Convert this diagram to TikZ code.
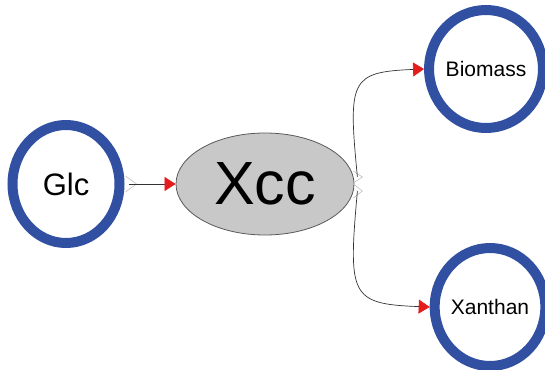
\documentclass[tikz,border=0pt]{standalone}
\usepackage{fontspec}
\setmainfont{Liberation Sans}
\usepackage{tikz}
\usetikzlibrary{shapes.geometric, arrows.meta}

\definecolor{ringblue}{RGB}{50,80,162}
\definecolor{xccgray}{RGB}{200,200,200}
\definecolor{arrowred}{RGB}{228,28,28}

\begin{document}
\begin{tikzpicture}[x=1pt, y=-1pt,
  pool/.style={ellipse, draw=ringblue, line width=10pt, fill=white,
    minimum width=107pt, minimum height=118pt, inner sep=0pt},
  cell/.style={ellipse, draw=black!65, line width=0.8pt, fill=xccgray,
    minimum width=178pt, minimum height=102pt, inner sep=0pt},
  flux/.style={draw=black!80, line width=0.7pt,
    -{Triangle[length=11pt, width=14pt, color=arrowred]}},
  src/.style={draw=black!25, line width=0.6pt}]
\useasboundingbox (0,0) rectangle (545,369);
% species
\node[pool] (glc) at (66,184) {\fontsize{31}{31}\selectfont Glc};
\node[cell] (xcc) at (265,184) {\fontsize{61}{61}\selectfont Xcc};
\node[pool] (biomass) at (486,69) {\fontsize{21}{21}\selectfont Biomass};
\node[pool] (xanthan) at (490,307) {\fontsize{21}{21}\selectfont Xanthan};
% uptake
\draw[src] ([shift={(1,-8)}]glc.east) -- ++(11,8) -- ++(-11,8);
\draw[flux] ([xshift=4pt]glc.east) -- (xcc.west);
% products
\coordinate (out1) at ([shift={(3,-7)}]xcc.east);
\coordinate (out2) at ([shift={(3,7)}]xcc.east);
\draw[src] ([shift={(-1,-13)}]xcc.east) -- ++(9,6) -- ++(-9,6);
\draw[src] ([shift={(-1,0)}]xcc.east) -- ++(9,7) -- ++(-9,7);
\draw[flux] (out1) .. controls (348,80) and (350,72) .. (biomass.west);
\draw[flux] (out2) .. controls (348,296) and (350,304) .. (xanthan.west);
\end{tikzpicture}
\end{document}
